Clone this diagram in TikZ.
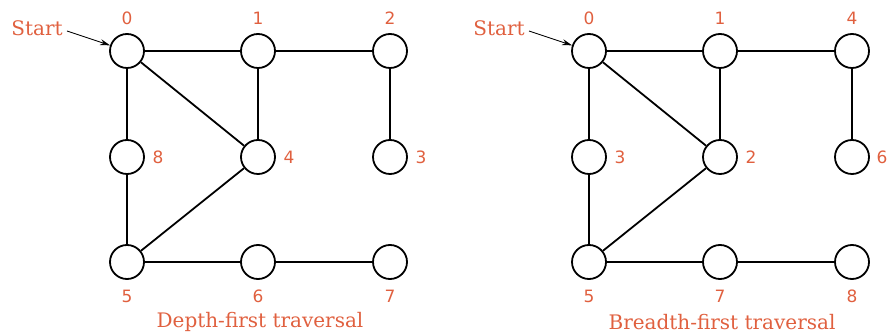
\documentclass[tikz,border=0pt]{standalone}
\usepackage{fontspec}
\setmainfont{DejaVu Serif}
\newfontfamily\digitfont{DejaVu Sans}
\usetikzlibrary{arrows.meta}
\definecolor{lab}{HTML}{E0603F}
\begin{document}
\begin{tikzpicture}[x=1pt,y=-1pt,
  vtx/.style={circle,draw,line width=1.8pt,minimum size=34pt,inner sep=0pt,fill=white},
  edge/.style={line width=1.8pt},
  num/.style={text=lab,font=\digitfont\fontsize{17}{17}\selectfont,inner sep=0pt},
  captext/.style={text=lab,font=\fontsize{20}{20}\selectfont,inner sep=0pt},
  arr/.style={line width=0.9pt,-{Stealth[length=10pt,width=6pt]}}]
\useasboundingbox (0,0) rectangle (892,336);
% Left graph
\node[vtx] (a0) at (127,51) {};
\node[vtx] (a1) at (258,51) {};
\node[vtx] (a2) at (390,51) {};
\node[vtx] (a8) at (127,157) {};
\node[vtx] (a4) at (258,157) {};
\node[vtx] (a3) at (390,157) {};
\node[vtx] (a5) at (127,262) {};
\node[vtx] (a6) at (258,262) {};
\node[vtx] (a7) at (390,262) {};
\draw[edge] (a0)--(a1) (a1)--(a2) (a0)--(a8) (a0)--(a4) (a1)--(a4) (a2)--(a3)
  (a8)--(a5) (a5)--(a4) (a5)--(a6) (a6)--(a7);
\node[num] (la0) at (127,18) {0};
\node[num] (la1) at (258,18) {1};
\node[num] (la2) at (390,18) {2};
\node[num] (la8) at (158,157) {8};
\node[num] (la4) at (289,157) {4};
\node[num] (la3) at (421,157) {3};
\node[num] (la5) at (127,296) {5};
\node[num] (la6) at (258,296) {6};
\node[num] (la7) at (390,296) {7};
\node[captext] (sa) at (37,28) {Start};
\coordinate (sa0) at (67,31);
\draw[arr] (sa0) -- (a0);
\node[captext] (ca) at (260,322) {Depth-first traversal};
% Right graph
\node[vtx] (b0) at (589,51) {};
\node[vtx] (b1) at (720,51) {};
\node[vtx] (b4) at (852,51) {};
\node[vtx] (b3) at (589,157) {};
\node[vtx] (b2) at (720,157) {};
\node[vtx] (b6) at (852,157) {};
\node[vtx] (b5) at (589,262) {};
\node[vtx] (b7) at (720,262) {};
\node[vtx] (b8) at (852,262) {};
\draw[edge] (b0)--(b1) (b1)--(b4) (b0)--(b3) (b0)--(b2) (b1)--(b2) (b4)--(b6)
  (b3)--(b5) (b5)--(b2) (b5)--(b7) (b7)--(b8);
\node[num] (lb0) at (589,18) {0};
\node[num] (lb1) at (720,18) {1};
\node[num] (lb4) at (852,18) {4};
\node[num] (lb3) at (620,157) {3};
\node[num] (lb2) at (751,157) {2};
\node[num] (lb6) at (882,157) {6};
\node[num] (lb5) at (589,296) {5};
\node[num] (lb7) at (720,296) {7};
\node[num] (lb8) at (852,296) {8};
\node[captext] (sb) at (499,28) {Start};
\coordinate (sb0) at (529,31);
\draw[arr] (sb0) -- (b0);
\node[captext] (cb) at (722,322) {Breadth-first traversal};
\end{tikzpicture}
\end{document}
